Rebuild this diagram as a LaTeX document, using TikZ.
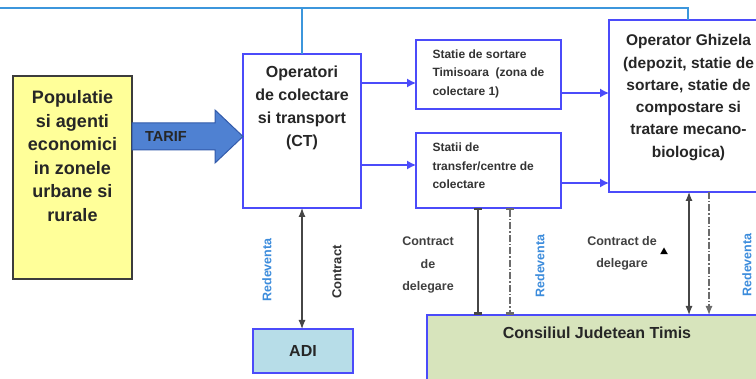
\documentclass[tikz,border=0pt]{standalone}
\usepackage{fontspec}
\setmainfont{Liberation Sans}
\usetikzlibrary{arrows.meta,shapes.geometric}
\definecolor{bbord}{RGB}{75,75,250}
\definecolor{topline}{RGB}{60,150,220}
\definecolor{yfill}{RGB}{255,255,153}
\definecolor{ybord}{RGB}{60,60,60}
\definecolor{tfill}{RGB}{79,129,210}
\definecolor{tbord}{RGB}{50,90,170}
\definecolor{adifill}{RGB}{183,221,232}
\definecolor{cjfill}{RGB}{215,228,188}
\definecolor{redev}{RGB}{60,140,220}
\definecolor{gline}{RGB}{70,70,70}
\tikzset{
  boxbase/.style={inner sep=0pt, outer sep=0pt, anchor=north west},
  bbox/.style={boxbase, draw=bbord, line width=1.3pt, fill=white},
  ybox/.style={boxbase, draw=ybord, line width=1.4pt, fill=yfill},
  bigtxt/.style={align=center, font=\bfseries\fontsize{18}{23.5}\selectfont, text=black!85},
  midtxt/.style={align=center, font=\bfseries\fontsize{16}{23}\selectfont, text=black!85},
  ghtxt/.style={align=center, font=\bfseries\fontsize{15.5}{22.3}\selectfont, text=black!85},
  smalltxt/.style={align=left, anchor=west, font=\bfseries\fontsize{12}{18.5}\selectfont, text=black!80},
  labtxt/.style={align=center, font=\bfseries\fontsize{12.5}{22.5}\selectfont, text=black!75},
  redtxt/.style={rotate=90, font=\bfseries\fontsize{12.5}{14}\selectfont, text=redev},
  contxt/.style={rotate=90, font=\bfseries\fontsize{13}{14}\selectfont, text=black!80},
  barrow/.style={draw=bbord, line width=1.3pt, -{Latex[length=9pt,width=9pt]}},
  dblarrow/.style={draw=gline, line width=1.2pt, {Latex[length=9pt,width=7pt]}-{Latex[length=9pt,width=7pt]}},
  barline/.style={draw=gline, line width=1.3pt, {Bar[width=8pt,line width=2.5pt]}-{Bar[width=8pt,line width=2.5pt]}},
  dashdot/.style={draw=gline!80, line width=1.2pt, dash pattern=on 7pt off 2pt on 1.5pt off 2pt},
}
\begin{document}
\begin{tikzpicture}[x=1pt,y=-1pt]
\useasboundingbox (0,0) rectangle (756,379);
\clip (0,0) rectangle (756,379);
\fill[white] (0,0) rectangle (756,379);

% helper coordinates
\coordinate (y83) at (0,83);
\coordinate (y93) at (0,93);
\coordinate (y165) at (0,165);
\coordinate (y183) at (0,183);
\coordinate (ytop) at (0,8);
\coordinate (x478) at (478,0);
\coordinate (x510) at (510,0);
\coordinate (x689) at (689,0);
\coordinate (x709) at (709,0);

% boxes
\node[ybox, minimum width=119pt, minimum height=203pt] (pop) at (13,76) {};
\node[bigtxt] (popt) at (72.5,156) {Populatie\\si agenti\\economici\\in zonele\\urbane si\\rurale};

\node[bbox, minimum width=118pt, minimum height=154pt] (ct) at (243,54) {};
\node[midtxt] (ctt) at (302,107.5) {Operatori\\de colectare\\si transport\\(CT)};

\node[bbox, minimum width=145pt, minimum height=69pt] (ss) at (416,40) {};
\node[smalltxt] (sst) at (429,73.5) {Statie de sortare\\Timisoara\ \ (zona de\\colectare 1)};

\node[bbox, minimum width=145pt, minimum height=75pt] (st) at (416,133) {};
\node[smalltxt] (stt) at (429,166) {Statii de\\transfer/centre de\\colectare};

\node[bbox, minimum width=158pt, minimum height=172pt] (gh) at (609,20) {};
\node[ghtxt] (ght) at (688.5,97.5) {Operator Ghizela\\(depozit, statie de\\sortare, statie de\\compostare si\\tratare mecano-\\biologica)};

\node[bbox, fill=adifill, minimum width=100pt, minimum height=44pt] (adi) at (253,329) {};
\node[midtxt] (adit) at (adi.center) {ADI};

\node[bbox, fill=cjfill, minimum width=340pt, minimum height=80pt] (cj) at (427,315) {};
\node[midtxt] (cjt) at (597,333) {Consiliul Judetean Timis};

% TARIF arrow
\filldraw[fill=tfill, draw=tbord, line width=1pt]
  (pop.east |- 0,123) -- (215,123) -- (215,110) -- (ct.west |- 0,136.5)
  -- (215,163) -- (215,150) -- (pop.east |- 0,150) -- cycle;
\node[font=\bfseries\fontsize{14.5}{16}\selectfont, text=black!85] (tarif) at (166,137) {TARIF};

% top light-blue line
\draw[topline, line width=1.4pt] (ct.north) |- (ytop) -| (gh.north);

% blue arrows
\draw[barrow] (ct.east |- y83) -- (ss.west |- y83);
\draw[barrow] (ct.east |- y165) -- (st.west |- y165);
\draw[barrow] (ss.east |- y93) -- (gh.west |- y93);
\draw[barrow] (st.east |- y183) -- (gh.west |- y183);

% CT - ADI
\draw[dblarrow] (ct.south) -- (adi.north -| ct.south);
\node[redtxt] (r1) at (267,270) {Redeventa};
\node[contxt] (c1) at (337,272) {Contract};

% transfer - consiliu
\draw[barline] (st.south -| x478) -- (cj.north -| x478);
\draw[dashdot, {Bar[width=8pt,line width=2.5pt]}-{Bar[width=8pt,line width=2.5pt]}] (st.south -| x510) -- (cj.north -| x510);
\node[labtxt] (l1) at (428,265) {Contract\\de\\delegare};
\node[redtxt] (r2) at (540,266) {Redeventa};

% ghizela - consiliu
\draw[dblarrow] (gh.south -| x689) -- (cj.north -| x689);
\draw[dashdot, -{Latex[length=9pt,width=7pt]}] (gh.south -| x709) -- (cj.north -| x709);
\node[labtxt, align=center] (l2) at (622,253.5) {Contract de\\delegare};
\node[regular polygon, regular polygon sides=3, fill=black, inner sep=0pt, minimum size=9pt] (tri) at (664,252) {};
\node[redtxt] (r3) at (747,265) {Redeventa};
\end{tikzpicture}
\end{document}
